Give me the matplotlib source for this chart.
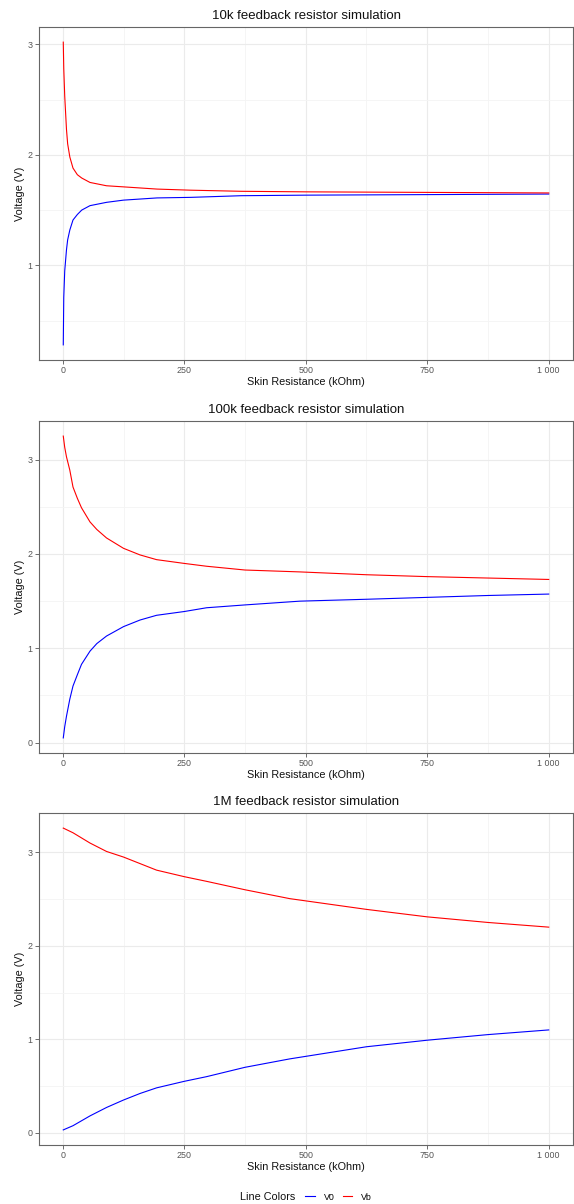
import numpy as np
import matplotlib.pyplot as plt
from matplotlib.ticker import FixedLocator, FuncFormatter
from matplotlib.lines import Line2D

plt.rcParams['font.family'] = ['Liberation Sans', 'DejaVu Sans']

# Values (x in kOhm, y in V)
# 10k feedback resistor
x_10k = [1, 2, 4, 7.6, 10, 14.5, 21, 30, 39, 56, 90, 125, 194, 263, 367, 500, 750, 1000]
v0_10k = [0.28, 0.71, 0.95, 1.14, 1.23, 1.32, 1.41, 1.46, 1.50, 1.54, 1.57, 1.59, 1.61, 1.615, 1.63, 1.635, 1.64, 1.645]
vb_10k = [3.02, 2.78, 2.53, 2.23, 2.10, 1.98, 1.88, 1.82, 1.79, 1.75, 1.72, 1.71, 1.69, 1.68, 1.67, 1.665, 1.66, 1.655]

# 100k feedback resistor
x_100k = [1, 4, 7.6, 14.4, 21, 30, 38.5, 56, 70, 90, 125, 159, 193, 250, 296, 375, 488, 625, 750, 875, 1000]
v0_100k = [0.05, 0.17, 0.28, 0.46, 0.60, 0.72, 0.83, 0.97, 1.05, 1.13, 1.23, 1.30, 1.35, 1.39, 1.43, 1.46, 1.50, 1.52, 1.54, 1.56, 1.575]
vb_100k = [3.25, 3.13, 3.03, 2.89, 2.71, 2.59, 2.49, 2.34, 2.26, 2.17, 2.06, 1.99, 1.94, 1.90, 1.87, 1.83, 1.81, 1.78, 1.76, 1.745, 1.73]

# 1M feedback resistor
x_1m = [1, 21, 56, 90, 125, 159, 193, 250, 296, 375, 467, 625, 750, 875, 1000]
v0_1m = [0.03, 0.075, 0.18, 0.27, 0.35, 0.42, 0.48, 0.55, 0.60, 0.70, 0.79, 0.92, 0.99, 1.05, 1.10]
vb_1m = [3.26, 3.21, 3.10, 3.01, 2.95, 2.88, 2.81, 2.74, 2.69, 2.60, 2.505, 2.39, 2.31, 2.25, 2.20]

titles = ['10k feedback resistor simulation',
          '100k feedback resistor simulation',
          '1M feedback resistor simulation']
series = [(x_10k, v0_10k, vb_10k), (x_100k, v0_100k, vb_100k), (x_1m, v0_1m, vb_1m)]
y_major = [[1, 2, 3], [0, 1, 2, 3], [0, 1, 2, 3]]
x_major = [0, 250, 500, 750, 1000]

W, H = 574, 1204
fig = plt.figure(figsize=(W / 100, H / 100), dpi=100)

# panel boxes in pixels: (top, bottom)
boxes = [(27, 360), (421, 753), (813, 1145)]
left, right = 39, 573


def thousands(v, pos):
    return f'{int(v):,}'.replace(',', ' ')


for (top, bot), (x, v0, vb), title, ym in zip(boxes, series, titles, y_major):
    ax = fig.add_axes([left / W, 1 - bot / H, (right - left) / W, (bot - top) / H])
    ax.plot(x, v0, color='#0000ff', lw=0.8, zorder=3)
    ax.plot(x, vb, color='#ff0000', lw=0.8, zorder=3)

    ymin = min(v0 + vb)
    ymax = max(v0 + vb)
    pad = (ymax - ymin) * 0.05
    ax.set_ylim(ymin - pad, ymax + pad)
    ax.set_xlim(1 - 0.05 * 999, 1000 + 0.05 * 999)

    ax.xaxis.set_major_locator(FixedLocator(x_major))
    ax.xaxis.set_minor_locator(FixedLocator([125, 375, 625, 875]))
    ax.xaxis.set_major_formatter(FuncFormatter(thousands))
    ax.yaxis.set_major_locator(FixedLocator(ym))
    ax.yaxis.set_minor_locator(FixedLocator([v + 0.5 for v in range(-1, 4)]))

    ax.grid(which='major', color='#ebebeb', lw=0.8)
    ax.grid(which='minor', color='#f4f4f4', lw=0.6)
    ax.set_axisbelow(True)
    ax.tick_params(which='major', length=3, width=0.6, color='#555555',
                   labelsize=6.4, labelcolor='#555555', pad=1.5)
    ax.tick_params(which='minor', length=0)
    for sp in ax.spines.values():
        sp.set_color('#666666')
        sp.set_linewidth(0.8)

    ax.set_title(title, fontsize=9.5, color='#111111', pad=6)
    ax.set_xlabel('Skin Resistance (kOhm)', fontsize=7.8, color='#111111', labelpad=1.5)
    ax.set_ylabel('Voltage (V)', fontsize=7.8, color='#111111', labelpad=2)

# legend: title on the left, keys on the same row
ly = 1 - 1197 / H
fig.text(240 / W, ly, 'Line Colors', fontsize=7.8, color='#111111', ha='left', va='center')
handles = [Line2D([], [], color='#0000ff', lw=0.8), Line2D([], [], color='#ff0000', lw=0.8)]
fig.legend(handles, ['V0', 'Vb'], loc='center left',
           bbox_to_anchor=(305 / W, ly), ncol=2, frameon=False,
           fontsize=6.4, handlelength=1.1, handletextpad=1.0,
           columnspacing=0.9, borderpad=0, borderaxespad=0)

fig.savefig('out.png', dpi=100)
